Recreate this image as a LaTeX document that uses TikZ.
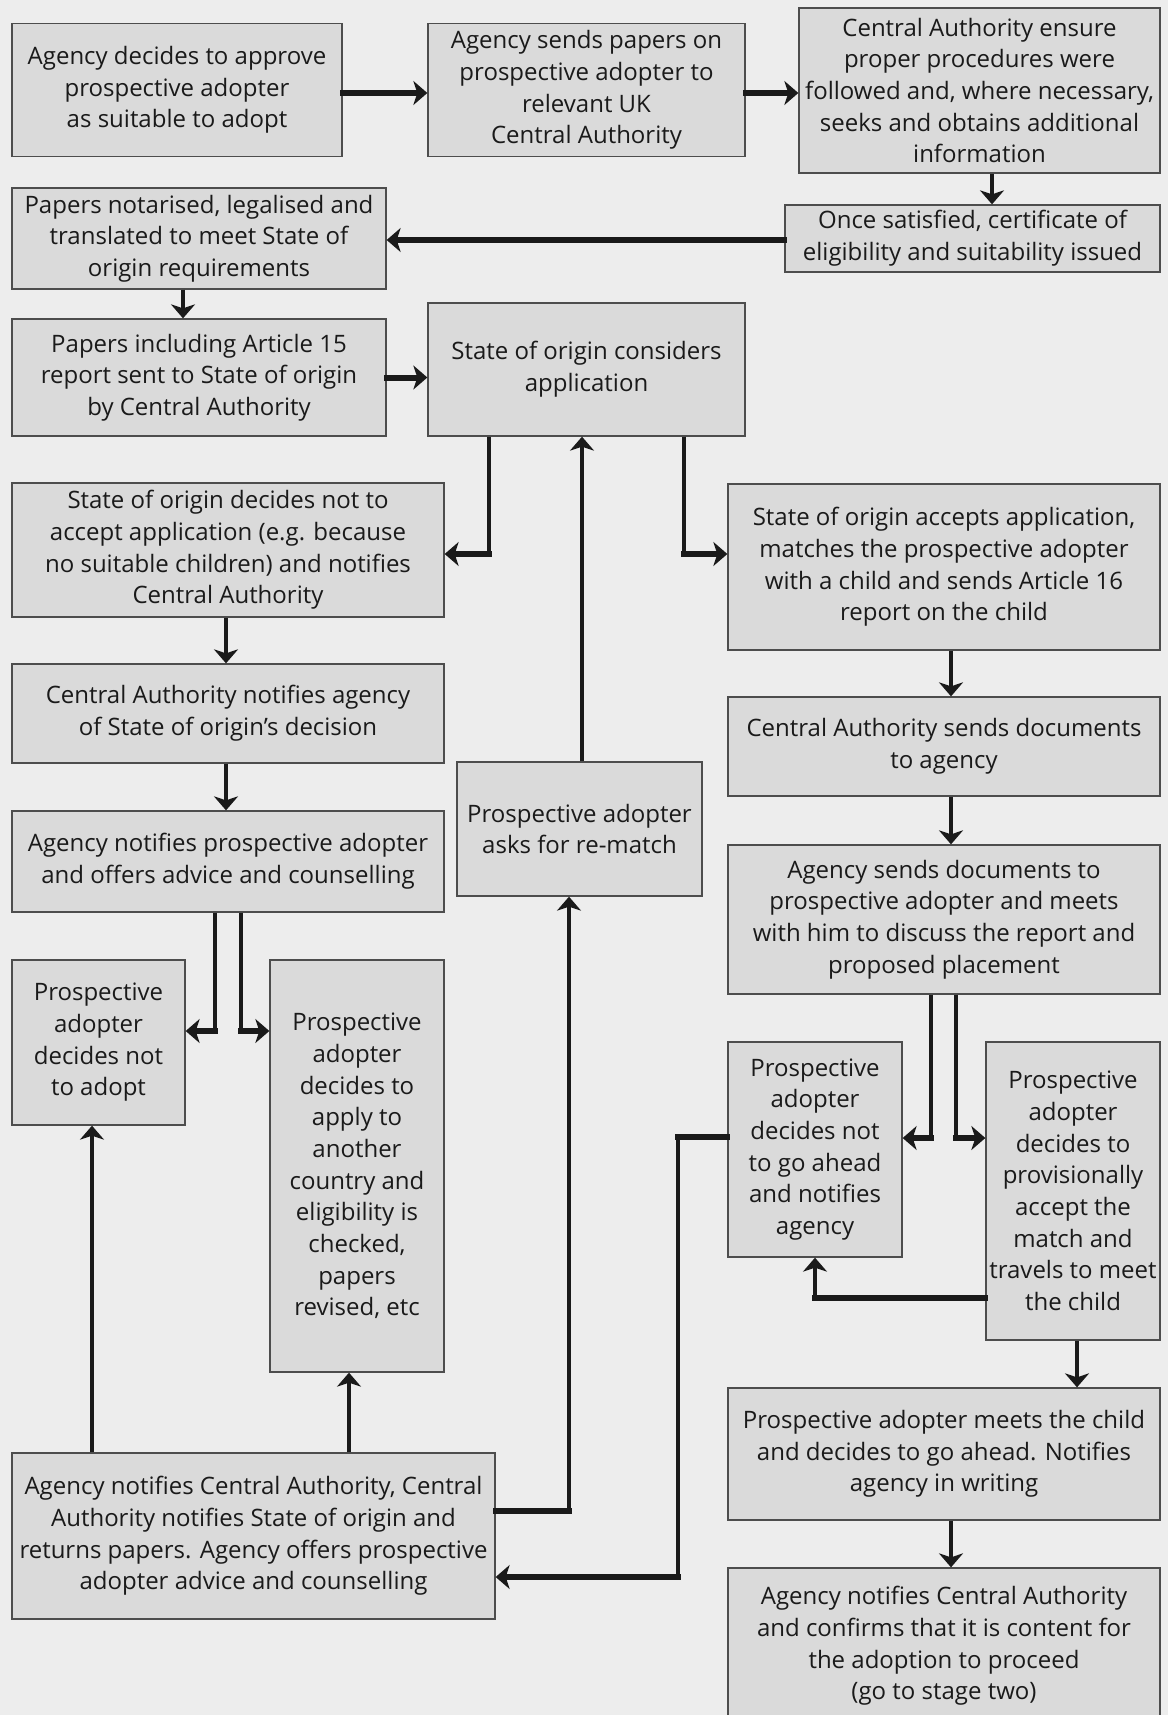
\documentclass[tikz,border=0pt]{standalone}
\usepackage{fontspec}
\setmainfont{Open Sans}
\usetikzlibrary{arrows.meta}
\definecolor{bg}{HTML}{EDEDED}
\definecolor{boxfill}{HTML}{DADADA}
\definecolor{boxline}{HTML}{4D4D4D}
\definecolor{ink}{HTML}{1A1A1A}

\begin{document}
\begin{tikzpicture}[x=1pt,y=-1pt,
    stage/.style={rectangle, draw=boxline, line width=1.3pt, fill=boxfill, align=center, inner sep=0pt, text=ink, font=\fontsize{24}{31.7}\selectfont},
    link/.style={draw=ink, line width=4pt},
    flow/.style={link, -{Stealth[length=14pt, width=24pt, inset=4pt]}},
    heavy/.style={draw=ink, line width=6pt, line cap=rect},
    heavyflow/.style={heavy, -{Stealth[length=14pt, width=24pt, inset=4pt]}}]
    \fill[bg] (0,0) rectangle (1168,1715);
    \useasboundingbox (0,0) rectangle (1168,1715);

    \node[stage, minimum width=330pt, minimum height=133pt] (a1) at (177,90) {Agency decides to approve\\prospective adopter\\as suitable to adopt};
    \node[stage, minimum width=317pt, minimum height=133pt] (a2) at (586.5,90) {Agency sends papers on\\prospective adopter to\\relevant UK\\Central Authority};
    \node[stage, minimum width=361pt, minimum height=165pt] (a3) at (979.5,90.5) {Central Authority ensure\\proper procedures were\\followed and, where necessary,\\seeks and obtains additional\\information};
    \node[stage, minimum width=375pt, minimum height=67pt] (a4) at (972.5,238.5) {Once satisfied, certificate of\\eligibility and suitability issued};
    \node[stage, minimum width=374pt, minimum height=101pt] (b1) at (199,238.5) {Papers notarised, legalised and\\translated to meet State of\\origin requirements};
    \node[stage, minimum width=374pt, minimum height=117pt] (b2) at (199,377.5) {Papers including Article 15\\report sent to State of origin\\by Central Authority};
    \node[stage, minimum width=317pt, minimum height=133pt] (c) at (586.5,369.5) {State of origin considers\\application};
    \node[stage, minimum width=432pt, minimum height=134pt] (d1) at (228,550) {State of origin decides not to\\accept application (e.g. because\\no suitable children) and notifies\\Central Authority};
    \node[stage, minimum width=432pt, minimum height=99pt] (d2) at (228,713.5) {Central Authority notifies agency\\of State of origin’s decision};
    \node[stage, minimum width=432pt, minimum height=101pt] (d3) at (228,861.5) {Agency notifies prospective adopter\\and offers advice and counselling};
    \node[stage, minimum width=173pt, minimum height=165pt] (d4) at (98.5,1042.5) {Prospective\\adopter\\decides not\\to adopt};
    \node[stage, minimum width=174pt, minimum height=412pt] (d5) at (357,1166) {Prospective\\adopter\\decides to\\apply to\\another\\country and\\eligibility is\\checked,\\papers\\revised, etc};
    \node[stage, minimum width=483pt, minimum height=166pt] (d6) at (253.5,1536) {Agency notifies Central Authority, Central\\Authority notifies State of origin and\\returns papers. Agency offers prospective\\adopter advice and counselling};
    \node[stage, minimum width=245pt, minimum height=134pt] (r) at (579.5,829) {Prospective adopter\\asks for re-match};
    \node[stage, minimum width=432pt, minimum height=166pt] (e1) at (944,567) {State of origin accepts application,\\matches the prospective adopter\\with a child and sends Article 16\\report on the child};
    \node[stage, minimum width=432pt, minimum height=99pt] (e2) at (944,746.5) {Central Authority sends documents\\to agency};
    \node[stage, minimum width=432pt, minimum height=149pt] (e3) at (944,919.5) {Agency sends documents to\\prospective adopter and meets\\with him to discuss the report and\\proposed placement};
    \node[stage, minimum width=174pt, minimum height=215pt] (e4) at (815,1149.5) {Prospective\\adopter\\decides not\\to go ahead\\and notifies\\agency};
    \node[stage, minimum width=174pt, minimum height=298pt] (e5) at (1073,1191) {Prospective\\adopter\\decides to\\provisionally\\accept the\\match and\\travels to meet\\the child};
    \node[stage, minimum width=432pt, minimum height=132pt] (e6) at (944,1454) {Prospective adopter meets the child\\and decides to go ahead. Notifies\\agency in writing};
    \node[stage, minimum width=432pt, minimum height=156pt] (e7) at (944,1646) {Agency notifies Central Authority\\and confirms that it is content for\\the adoption to proceed\\(go to stage two)};

    \coordinate (k1) at (489,554);
    \coordinate (k2) at (683.5,554);
    \coordinate (k3) at (215,1031);
    \coordinate (k4) at (241,1031);
    \coordinate (k5) at (569,1511);
    \coordinate (k6) at (678,1137);
    \coordinate (k7) at (678,1577);
    \coordinate (k8) at (930.5,1138);
    \coordinate (k9) at (956,1138);
    \coordinate (k10) at (815,1298);

    \draw[heavyflow] (a1.east |- 0,93) -- (a2.west |- 0,93);
    \draw[heavyflow] (a2.east |- 0,93) -- (a3.west |- 0,93);
    \draw[flow] (a3.south -| 992,0) -- (a4.north -| 992,0);
    \draw[heavyflow] (a4.west |- 0,240) -- (b1.east |- 0,240);
    \draw[flow] (b1.south -| 183,0) -- (b2.north -| 183,0);
    \draw[heavyflow] (b2.east) -- (c.west |- b2.east);
    \draw[link] (c.south -| k1) -- (k1);
    \draw[heavyflow] (k1) -- (d1.east |- k1);
    \draw[link] (c.south -| k2) -- (k2);
    \draw[heavyflow] (k2) -- (e1.west |- k2);
    \draw[flow] (r.north -| 582,0) -- (c.south -| 582,0);
    \draw[flow] (d1.south -| 226,0) -- (d2.north -| 226,0);
    \draw[flow] (d2.south -| 226,0) -- (d3.north -| 226,0);
    \draw[link] (d3.south -| k3) -- (k3);
    \draw[heavyflow] (k3) -- (d4.east |- k3);
    \draw[link] (d3.south -| k4) -- (k4);
    \draw[heavyflow] (k4) -- (d5.west |- k4);
    \draw[flow] (d6.north -| 92,0) -- (d4.south -| 92,0);
    \draw[flow] (d6.north -| 349,0) -- (d5.south -| 349,0);
    \draw[heavy] (d6.east |- k5) -- (k5);
    \draw[flow] (k5) -- (r.south -| k5);
    \draw[heavy] (e4.west |- k6) -- (k6);
    \draw[link] (k6) -- (k7);
    \draw[heavyflow] (k7) -- (d6.east |- k7);
    \draw[flow] (e1.south -| 951,0) -- (e2.north -| 951,0);
    \draw[flow] (e2.south -| 951,0) -- (e3.north -| 951,0);
    \draw[link] (e3.south -| k8) -- (k8);
    \draw[heavyflow] (k8) -- (e4.east |- k8);
    \draw[link] (e3.south -| k9) -- (k9);
    \draw[heavyflow] (k9) -- (e5.west |- k9);
    \draw[heavy] (e5.west |- k10) -- (k10);
    \draw[flow] (k10) -- (e4.south -| k10);
    \draw[flow] (e5.south -| 1077,0) -- (e6.north -| 1077,0);
    \draw[flow] (e6.south -| 951,0) -- (e7.north -| 951,0);
\end{tikzpicture}
\end{document}
